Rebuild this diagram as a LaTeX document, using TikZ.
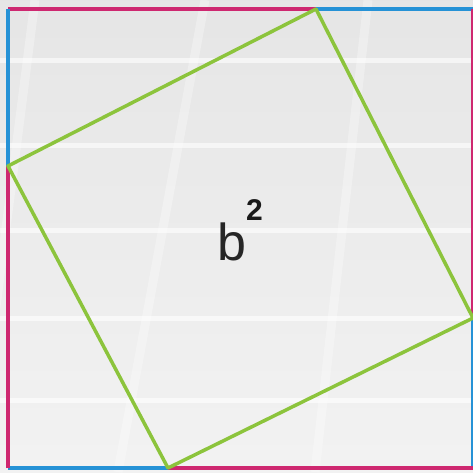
\documentclass[tikz,border=0pt]{standalone}
\usepackage{fontspec}
\setmainfont{Liberation Sans}
\usepackage{xcolor}
\usetikzlibrary{calc}
\definecolor{legA}{RGB}{206,40,112}
\definecolor{legB}{RGB}{38,146,214}
\definecolor{hyp}{RGB}{140,196,60}
\tikzset{
  sideA/.style={line width=3.5pt, legA},
  sideB/.style={line width=3.5pt, legB},
  tilted/.style={line width=3.5pt, hyp, line join=round},
  band/.style={white, line width=5pt, opacity=0.6},
  slant/.style={white, line width=9pt, opacity=0.3},
  every node/.style={inner sep=0pt, outer sep=0pt}
}

\begin{document}
\begin{tikzpicture}[x=1pt, y=-1pt]
    % background
    \useasboundingbox (0,0) rectangle (473,472);
    \shade[top color=black!10, bottom color=black!5] (0,0) rectangle (473,472);
    \foreach \yy in {60,145,230,318,400}
        \draw[band] (0,\yy) -- (473,\yy);
    \draw[slant] (35,0) -- (-25,472);
    \draw[slant] (205,0) -- (118,472);
    \draw[slant] (368,0) -- (315,472);

    % corners of the outer square
    \coordinate (tl) at (8,9);
    \coordinate (tr) at (473,9);
    \coordinate (br) at (473,468);
    \coordinate (bl) at (8,468);
    % corners of the tilted square
    \coordinate (top) at (316,9);
    \coordinate (right) at (473,318);
    \coordinate (bottom) at (168,468);
    \coordinate (left) at (8,166);

    \draw[sideA] (tl) -- (top);
    \draw[sideB] (top) -- (tr);
    \draw[sideA] (tr) -- (right);
    \draw[sideB] (right) -- (br);
    \draw[sideA] (br) -- (bottom);
    \draw[sideB] (bottom) -- (bl);
    \draw[sideA] (bl) -- (left);
    \draw[sideB] (left) -- (tl);

    \draw[tilted] (top) -- (right) -- (bottom) -- (left) -- cycle;

    \node[anchor=base west, font=\fontsize{52}{52}\selectfont, text=black!85] (base) at (217,260) {b};
    \node[anchor=base west, font=\fontsize{30}{30}\selectfont\bfseries, text=black!90] (power) at (246,220) {2};
\end{tikzpicture}
\end{document}
